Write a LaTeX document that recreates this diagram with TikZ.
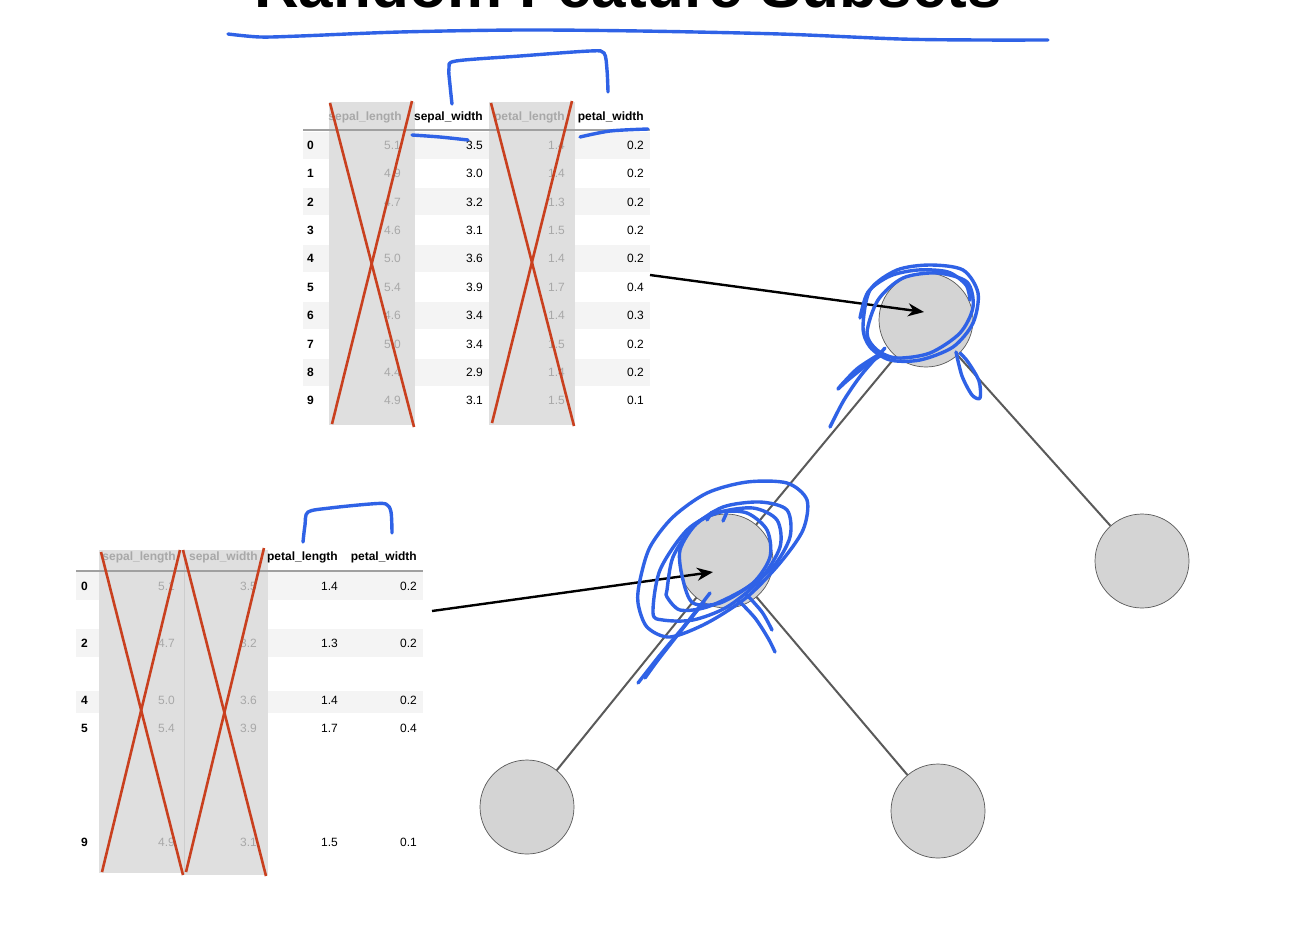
\documentclass[tikz,border=0pt]{standalone}
\usepackage{fontspec}
\setmainfont{Liberation Sans}
\usetikzlibrary{arrows.meta,calc}
\definecolor{ink}{HTML}{2F62E6}
\definecolor{xred}{HTML}{C9401F}
\definecolor{stripe}{HTML}{F4F4F4}
\definecolor{colgray}{HTML}{DFDFDF}
\definecolor{fadetxt}{HTML}{A8A8A8}
\definecolor{nodefill}{HTML}{D4D4D4}
\definecolor{edgegray}{HTML}{5A5A5A}
\definecolor{rulegray}{HTML}{A0A0A0}
\begin{document}
\begin{tikzpicture}[x=1pt,y=-1pt,
  tabfont/.style={font=\fontsize{12}{14}\selectfont},
  val/.style={tabfont, inner sep=0pt, anchor=base east},
  fval/.style={val, text=fadetxt},
  idx/.style={font=\bfseries\fontsize{12}{14}\selectfont, inner sep=0pt, anchor=base west},
  hdr/.style={font=\bfseries\fontsize{12}{14}\selectfont, inner sep=0pt, anchor=base east},
  fhdr/.style={hdr, text=fadetxt},
  cross/.style={xred, line width=2.6pt},
  inkline/.style={ink, line width=3.4pt, line cap=round, line join=round},
  treenode/.style={circle, draw=edgegray, line width=0.7pt, fill=nodefill, minimum size=94pt, inner sep=0pt},
  treeedge/.style={edgegray, line width=2pt},
  pointer/.style={black, line width=2.4pt, -{Stealth[length=16pt,width=13pt]}}]
\useasboundingbox (0,0) rectangle (1292,924);
\clip (0,0) rectangle (1292,924);
\fill[white] (0,0) rectangle (1292,924);

% title (cut off by the top edge, as in the reference)
\node[font=\bfseries\fontsize{62}{66}\selectfont, inner sep=0pt, anchor=base] (title) at (628,7) {Random Feature Subsets};
\draw[inkline] plot[smooth] coordinates {(228,34) (260,37) (300,36) (400,32) (520,30) (640,31) (780,34) (900,39) (980,40) (1048,40)};

% ---------------- top table ----------------
\foreach \r in {0,2,4,6,8} {
  \fill[stripe] (303,{145+\r*28.4-13.5}) rectangle (650,{145+\r*28.4+13.5});
}
\fill[colgray] (329,102) rectangle (415,425);
\fill[colgray] (489,102) rectangle (575,425);
\draw[rulegray, line width=1.5pt] (303,130) -- (650,130);
\node[fhdr] (t1h1) at (402,120.5) {sepal\_length};
\node[hdr]  (t1h2) at (483,120.5) {sepal\_width};
\node[fhdr] (t1h3) at (565,120.5) {petal\_length};
\node[hdr]  (t1h4) at (644,120.5) {petal\_width};
\foreach \r/\a/\b/\c/\d in {0/5.1/3.5/1.4/0.2, 1/4.9/3.0/1.4/0.2, 2/4.7/3.2/1.3/0.2, 3/4.6/3.1/1.5/0.2, 4/5.0/3.6/1.4/0.2, 5/5.4/3.9/1.7/0.4, 6/4.6/3.4/1.4/0.3, 7/5.0/3.4/1.5/0.2, 8/4.4/2.9/1.4/0.2, 9/4.9/3.1/1.5/0.1} {
  \pgfmathsetmacro{\yb}{145+\r*28.4+4.3}
  \node[idx] (t1i\r) at (307,\yb) {\r};
  \node[fval] (t1a\r) at (401,\yb) {\a};
  \node[val]  (t1b\r) at (483,\yb) {\b};
  \node[fval] (t1c\r) at (565,\yb) {\c};
  \node[val]  (t1d\r) at (644,\yb) {\d};
}
\draw[cross] (330,103) -- (414,427);
\draw[cross] (412,101) -- (332,424);
\draw[cross] (491,103) -- (574,426);
\draw[cross] (572,101) -- (492,423);
% blue marks on top table
\draw[inkline] plot[smooth] coordinates {(452,104) (450,85) (449,68) (456,61) (520,56) (590,51) (604,53) (607,70) (608,92)};
\draw[inkline] plot[smooth] coordinates {(412,135) (440,137) (468,140)};
\draw[inkline] plot[smooth] coordinates {(580,137) (610,131) (648,129)};

% ---------------- bottom table ----------------
\fill[stripe] (76,572) rectangle (423,600);
\fill[stripe] (76,629) rectangle (423,657);
\fill[stripe] (76,691) rectangle (423,713);
\fill[colgray] (99,550) rectangle (184,873);
\fill[colgray] (184,550) rectangle (268,875);
\draw[colgray!92!black, line width=1pt] (184,550) -- (184,874);
\draw[rulegray, line width=1.5pt] (76,571) -- (423,571);
\node[fhdr] (t2h1) at (176,560.5) {sepal\_length};
\node[fhdr] (t2h2) at (258,560.5) {sepal\_width};
\node[hdr]  (t2h3) at (338,560.5) {petal\_length};
\node[hdr]  (t2h4) at (417,560.5) {petal\_width};
\foreach \r/\y/\a/\b/\c/\d in {0/586/5.1/3.5/1.4/0.2, 2/643/4.7/3.2/1.3/0.2, 4/700/5.0/3.6/1.4/0.2, 5/728/5.4/3.9/1.7/0.4, 9/842/4.9/3.1/1.5/0.1} {
  \pgfmathsetmacro{\yb}{\y+4.3}
  \node[idx] (t2i\r) at (81,\yb) {\r};
  \node[fval] (t2a\r) at (175,\yb) {\a};
  \node[fval] (t2b\r) at (257,\yb) {\b};
  \node[val]  (t2c\r) at (338,\yb) {\c};
  \node[val]  (t2d\r) at (417,\yb) {\d};
}
\draw[cross] (101,552) -- (183,875);
\draw[cross] (180,550) -- (102,872);
\draw[cross] (183,550) -- (266,876);
\draw[cross] (264,548) -- (186,872);
\draw[inkline] plot[smooth] coordinates {(303,542) (305,525) (308,512) (330,508) (370,504) (386,504) (391,512) (392,533)};

% ---------------- tree ----------------
\node[treenode] (root) at (926,320) {};
\node[treenode] (ml) at (726,561) {};
\node[treenode] (mr) at (1142,561) {};
\node[treenode] (bl) at (527,807) {};
\node[treenode] (br) at (938,811) {};
\draw[treeedge] (root) -- (ml);
\draw[treeedge] (root) -- (mr);
\draw[treeedge] (ml) -- (bl);
\draw[treeedge] (ml) -- (br);

% pointers from tables to nodes
\coordinate (p1) at (650,275);
\coordinate (p2) at (432,611);
\draw[pointer] (p1) -- ($(root.center)+(-2,-8)$);
\draw[pointer] (p2) -- ($(ml.center)+(-13,11)$);

% blue scribbles around root
\draw[inkline] plot[smooth cycle] coordinates {(863,327) (870,290) (897,270) (930,265) (963,270) (978,293) (973,323) (953,347) (920,360) (890,360) (870,347)};
\draw[inkline] plot[smooth cycle] coordinates {(867,333) (878,300) (903,278) (937,273) (967,282) (973,307) (960,333) (930,353) (897,358) (877,350)};
\draw[inkline] plot[smooth] coordinates {(860,318) (868,292) (890,276) (918,270) (948,272) (966,285) (970,300)};
\draw[inkline] plot[smooth] coordinates {(885,348) (862,374) (844,400) (830,427)};
\draw[inkline] plot[smooth] coordinates {(878,355) (858,368) (844,382) (838,389) (848,380) (868,364) (880,356)};
\draw[inkline] plot[smooth] coordinates {(956,352) (962,376) (972,395) (980,398) (979,381) (968,362) (960,353)};

% blue scribbles around middle node
\draw[inkline] plot[smooth cycle] coordinates {(640,580) (650,547) (673,517) (707,493) (747,482) (787,483) (807,500) (803,530) (780,563) (747,597) (707,623) (670,637) (647,627) (638,603)};
\draw[inkline] plot[smooth cycle] coordinates {(667,590) (673,557) (693,527) (723,507) (760,502) (787,510) (790,537) (773,567) (743,590) (707,607) (680,610) (667,597)};
\draw[inkline] plot[smooth cycle] coordinates {(653,613) (660,570) (687,530) (717,513) (753,508) (777,520) (780,547) (760,580) (727,607) (693,620) (663,620)};
\draw[inkline] plot[smooth cycle] coordinates {(683,580) (680,550) (697,523) (720,512) (747,513) (767,530) (770,557) (753,583) (720,603) (693,603)};
\draw[inkline] plot[smooth] coordinates {(710,593) (685,625) (660,655) (638,683)};
\draw[inkline] plot[smooth] coordinates {(704,602) (680,632) (658,660) (645,678)};
\draw[inkline] plot[smooth] coordinates {(738,600) (755,618) (768,638) (775,652)};
\draw[inkline] plot[smooth] coordinates {(746,594) (762,612) (772,630)};
\draw[inkline] (707,520) -- (712,512);
\draw[inkline] (723,521) -- (727,512);
\end{tikzpicture}
\end{document}
